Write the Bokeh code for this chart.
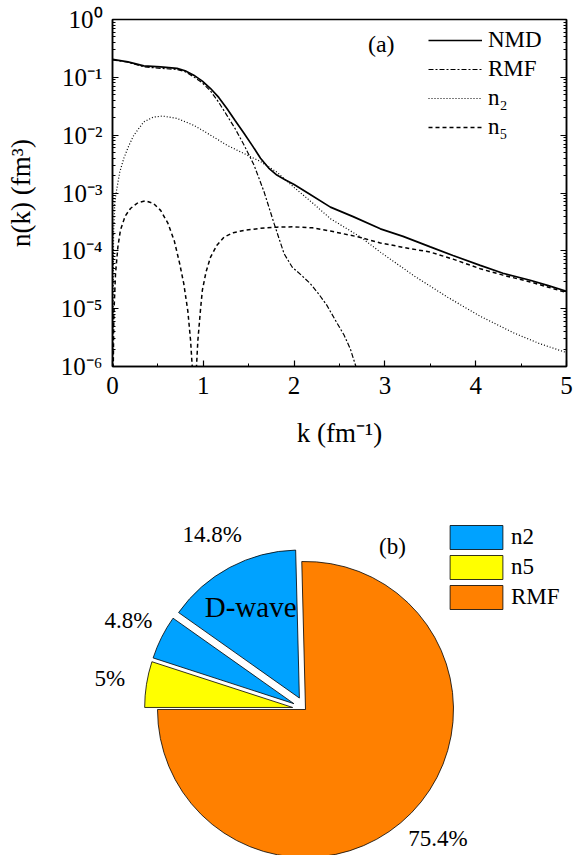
import numpy as np
from bokeh.plotting import figure
from bokeh.models import (Range1d, LogAxis, FixedTicker, CustomJSTickFormatter, Legend,
                          LegendItem, Label, ColumnDataSource)
from bokeh.core.properties import value
from bokeh.embed import file_html
from bokeh.resources import INLINE

FONT = "Liberation Serif"

# ---------------- data: panel (a) ----------------
k_nmd = [0.0, 0.17, 0.345, 0.53, 0.71, 0.8, 0.895, 0.99, 1.08, 1.17, 1.26, 1.35, 1.45, 1.54,
         1.63, 1.72, 1.81, 1.9, 2.0, 2.16, 2.4, 2.65, 2.95, 3.2, 3.5, 3.75, 4.05, 4.3, 4.6, 4.8, 5.0]
n_nmd = [0.204, 0.185, 0.158, 0.152, 0.143, 0.13, 0.109, 0.086, 0.064, 0.045, 0.029, 0.018,
         0.0107, 0.0066, 0.004, 0.0027, 0.00204, 0.0017, 0.0014, 0.00098, 5.7e-4, 3.9e-4,
         2.4e-4, 1.78e-4, 1.17e-4, 8.3e-5, 5.6e-5, 4.1e-5, 3.1e-5, 2.5e-5, 2.0e-5]

k_rmf = [0.0, 0.17, 0.345, 0.53, 0.71, 0.8, 0.895, 0.99, 1.08, 1.17, 1.26, 1.35, 1.45, 1.56,
         1.67, 1.78, 1.89, 1.98, 2.08, 2.18, 2.27, 2.36, 2.45, 2.55, 2.62, 2.7]
n_rmf = [0.2, 0.183, 0.152, 0.143, 0.137, 0.125, 0.102, 0.08, 0.058, 0.037, 0.022, 0.013,
         0.0067, 0.003, 0.00104, 2.95e-4, 8.9e-5, 5.2e-5, 3.8e-5, 2.7e-5, 1.8e-5, 1.15e-5,
         6.5e-6, 3.5e-6, 2.0e-6, 8e-7]

k_n2 = [0.001, 0.012, 0.025, 0.044, 0.08, 0.125, 0.18, 0.235, 0.345, 0.45, 0.55, 0.71, 0.895,
        1.08, 1.26, 1.45, 1.63, 1.81, 2.0, 2.2, 2.4, 2.73, 2.95, 3.32, 3.69, 4.05, 4.42, 4.7, 5.0]
n_n2 = [1e-7, 2e-4, 7e-4, 1.1e-3, 2.3e-3, 4e-3, 6.6e-3, 0.01, 0.017, 0.0205, 0.0214, 0.0195,
        0.0148, 0.01, 0.0067, 0.0048, 0.0035, 0.0023, 0.00125, 6.8e-4, 3.6e-4, 1.74e-4,
        9.5e-5, 3.7e-5, 1.58e-5, 7.4e-6, 3.8e-6, 2.5e-6, 1.74e-6]

k_n5 = [0.001, 0.015, 0.033, 0.06, 0.088, 0.14, 0.198, 0.28, 0.363, 0.45, 0.53, 0.61, 0.68,
        0.74, 0.785, 0.83, 0.86, 0.878, 0.9, 0.925, 0.94, 0.97, 0.99, 1.03, 1.08, 1.15, 1.23,
        1.33, 1.45, 1.63, 1.81, 2.0, 2.2, 2.4, 2.7, 2.95, 3.2, 3.5, 3.75, 4.05, 4.3, 4.6, 4.8, 5.0]
n_n5 = [1e-7, 8e-6, 4e-5, 1.2e-4, 2.3e-4, 4e-4, 5.4e-4, 6.8e-4, 7.3e-4, 6.6e-4, 5e-4, 3e-4,
        1.5e-4, 6e-5, 2.7e-5, 9e-6, 2.8e-6, 1e-6, 1e-8, 1e-6, 2.8e-6, 1e-5, 2.1e-5, 4.3e-5,
        7.8e-5, 1.25e-4, 1.74e-4, 2.05e-4, 2.26e-4, 2.45e-4, 2.57e-4, 2.6e-4, 2.5e-4, 2.2e-4,
        1.75e-4, 1.37e-4, 1.15e-4, 9.5e-5, 7.2e-5, 4.9e-5, 3.8e-5, 2.9e-5, 2.35e-5, 1.9e-5]

x_ticks = [0, 1, 2, 3, 4, 5]
x_minor = [0.5, 1.5, 2.5, 3.5, 4.5]
y_exponents = [0, -1, -2, -3, -4, -5, -6]
series_names = ["NMD", "RMF", "n\u2082", "n\u2085"]

# ---------------- data: panel (b) ----------------
pie_values = [14.8, 4.8, 5.0, 75.4]
pie_labels = ["14.8%", "4.8%", "5%", "75.4%"]
pie_groups = ["n2", "n2", "n5", "RMF"]
pie_inner = ["D-wave", "", "", ""]
group_colors = {"n2": "#00A2FF", "n5": "#FFFF00", "RMF": "#FF8000"}

SUP = str.maketrans("0123456789-", "\u2070\u00b9\u00b2\u00b3\u2074\u2075\u2076\u2077\u2078\u2079\u207b")

# ================= panel (a) =================
p = figure(width=578, height=460, x_range=Range1d(0, 5), y_range=Range1d(1e-6, 1),
           y_axis_type="log", output_backend="svg", toolbar_location=None,
           min_border_left=112, min_border_right=12, min_border_top=19, min_border_bottom=94)
p.grid.visible = False
p.outline_line_color = "black"
p.outline_line_width = 1.5

y_major = [10.0 ** e for e in y_exponents]
y_minor = [m * 10.0 ** e for e in y_exponents[1:] for m in range(2, 10)]
blank = CustomJSTickFormatter(code="return ''")

xa = p.xaxis[0]
xa.ticker = FixedTicker(ticks=x_ticks, minor_ticks=x_minor)
xa.major_tick_in = 6
xa.major_tick_out = 0
xa.minor_tick_in = 3
xa.minor_tick_out = 0
xa.axis_line_width = 1.5
xa.major_tick_line_width = 1.2
xa.major_label_text_font = FONT
xa.major_label_text_font_size = "25px"
xa.major_label_text_color = "black"
xa.major_label_standoff = 10
xa.axis_label = "k (fm\u207b\u00b9)"
xa.axis_label_text_font = FONT
xa.axis_label_text_font_size = "27px"
xa.axis_label_text_font_style = "normal"
xa.axis_label_text_color = "black"
xa.axis_label_standoff = 21

ya = p.yaxis[0]
ya.ticker = FixedTicker(ticks=y_major, minor_ticks=y_minor)
ya.major_label_overrides = {v: "10" + str(e).translate(SUP) for v, e in zip(y_major, y_exponents)}
ya.major_tick_in = 6
ya.major_tick_out = 0
ya.minor_tick_in = 3
ya.minor_tick_out = 0
ya.axis_line_width = 1.5
ya.major_label_text_font = FONT
ya.major_label_text_font_size = "25px"
ya.major_label_text_color = "black"
ya.major_label_standoff = 10
ya.axis_label = "n(k) (fm\u00b3)"
ya.axis_label_text_font = FONT
ya.axis_label_text_font_size = "27px"
ya.axis_label_text_font_style = "normal"
ya.axis_label_text_color = "black"
ya.axis_label_standoff = 22

ra = LogAxis(ticker=FixedTicker(ticks=y_major, minor_ticks=y_minor), formatter=blank,
             major_tick_in=6, major_tick_out=0, minor_tick_in=3, minor_tick_out=0,
             axis_line_width=1.5, major_label_standoff=0)
p.add_layout(ra, "right")

r_nmd = p.line(k_nmd, n_nmd, line_color="black", line_width=1.7)
r_rmf = p.line(k_rmf, n_rmf, line_color="black", line_width=1.2, line_dash="5 2 2 2")
r_n2 = p.line(k_n2, n_n2, line_color="black", line_width=1.2, line_dash="1 2")
r_n5 = p.line(k_n5, n_n5, line_color="black", line_width=1.5, line_dash="4 3")

p.add_layout(Label(x=2.96, y=0.38, text="(a)", text_font=FONT, text_font_size="24px",
                   text_align="center", text_baseline="middle", text_color="black"))

leg = Legend(items=[LegendItem(label=series_names[0], renderers=[r_nmd]),
                    LegendItem(label=series_names[1], renderers=[r_rmf]),
                    LegendItem(label=series_names[2], renderers=[r_n2]),
                    LegendItem(label=series_names[3], renderers=[r_n5])],
             location=(316, 226), glyph_width=54, glyph_height=24, label_height=24,
             spacing=3, padding=0, margin=0, label_standoff=6,
             label_text_font=FONT, label_text_font_size="23px", label_text_color="black",
             border_line_color=None, background_fill_alpha=0)
p.add_layout(leg)

# ================= panel (b) =================
q = figure(width=578, height=395, x_range=Range1d(0, 578), y_range=Range1d(0, 395),
           output_backend="svg", toolbar_location=None, min_border=0,
           x_axis_location=None, y_axis_location=None)
q.grid.visible = False
q.outline_line_color = None

cx, cy, R = 305, 146, 148
explode = [13, 13, 13, 0]
vals = np.array(pie_values)
total = vals.sum()
theta0 = np.pi - 2 * np.pi * (total - vals[-1]) / total
edges = theta0 + 2 * np.pi * np.concatenate([[0], np.cumsum(vals)]) / total
starts, ends = edges[:-1], edges[1:]
mids = (starts + ends) / 2
wx = cx + np.array(explode) * np.cos(mids)
wy = cy + np.array(explode) * np.sin(mids)
src = ColumnDataSource(dict(
    x=wx, y=wy, start=starts, end=ends, color=[group_colors[g] for g in pie_groups],
    group=pie_groups, lab=pie_labels, inner=pie_inner,
    lx=wx + 185 * np.cos(mids), ly=wy + 185 * np.sin(mids),
    ix=wx + 0.7 * R * np.cos(mids), iy=wy + 0.7 * R * np.sin(mids)))
rw = q.wedge(x="x", y="y", radius=R, start_angle="start", end_angle="end",
             fill_color="color", line_color="black", line_width=0.8, source=src)
q.text(x="lx", y="ly", text="lab", source=src, text_font=value(FONT), text_font_size="23px",
       text_align="center", text_baseline="middle", text_color="black")
q.text(x="ix", y="iy", text="inner", source=src, text_font=value(FONT), text_font_size="29px",
       text_align="center", text_baseline="middle", text_color="black")
q.add_layout(Label(x=392, y=309, text="(b)", text_font=FONT, text_font_size="23px",
                   text_align="center", text_baseline="middle", text_color="black"))

first_idx = {}
for i, g in enumerate(pie_groups):
    first_idx.setdefault(g, i)
leg2 = Legend(items=[LegendItem(label=g, renderers=[rw], index=i) for g, i in first_idx.items()],
              location=(443, 243), glyph_width=66, glyph_height=30, label_height=30,
              spacing=0, padding=0, margin=0, label_standoff=2,
              label_text_font=FONT, label_text_font_size="23px", label_text_color="black",
              border_line_color=None, background_fill_alpha=0)
q.add_layout(leg2)

open("out.html", "w").write(file_html([p, q], INLINE))
